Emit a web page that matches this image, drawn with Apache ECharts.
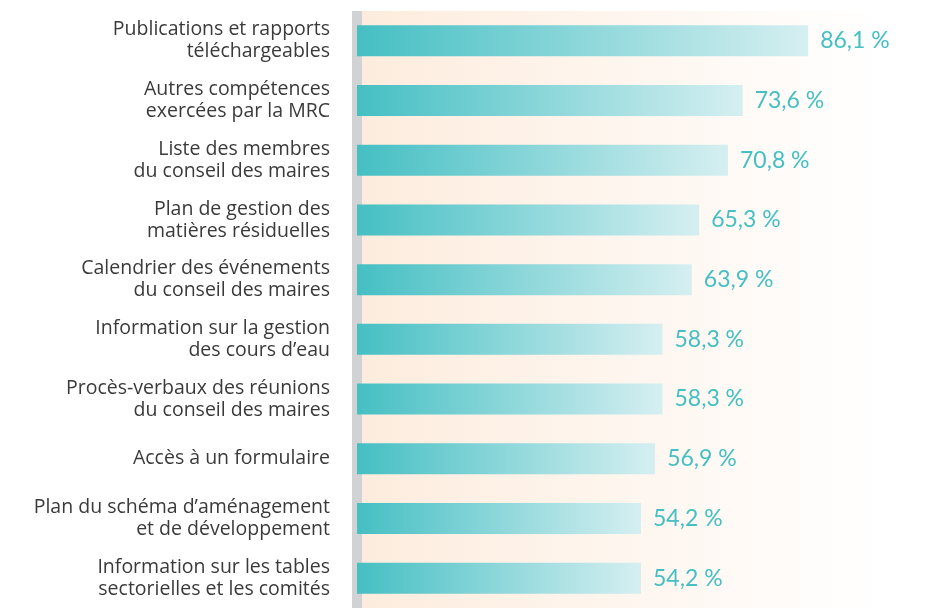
<!DOCTYPE html>
<html>
<head>
<meta charset="utf-8">
<script src="https://cdn.jsdelivr.net/npm/echarts@6/dist/echarts.min.js"></script>
<style>
  html, body { margin: 0; padding: 0; background: #fff; }
  #main { width: 928px; height: 610px; }
</style>
</head>
<body>
<div id="main"></div>
<script>
const categories = [
  'Publications et rapports\ntéléchargeables',
  'Autres compétences\nexercées par la MRC',
  'Liste des membres\ndu conseil des maires',
  'Plan de gestion des\nmatières résiduelles',
  'Calendrier des événements\ndu conseil des maires',
  'Information sur la gestion\ndes cours d’eau',
  'Procès-verbaux des réunions\ndu conseil des maires',
  'Accès à un formulaire',
  'Plan du schéma d’aménagement\net de développement',
  'Information sur les tables\nsectorielles et les comités'
]
const values = [86.1, 73.6, 70.8, 65.3, 63.9, 58.3, 58.3, 56.9, 54.2, 54.2]

const teal = '#45bfc3'

const chart = echarts.init(document.getElementById('main'))
chart.setOption({
  animation: false,
  grid: {
    left: 357, right: 47, top: 11, bottom: 2,
    show: true,
    borderWidth: 0,
    backgroundColor: new echarts.graphic.LinearGradient(0, 0, 1, 0, [
      { offset: 0, color: '#fdecdd' },
      { offset: 1, color: '#ffffff' }
    ])
  },
  xAxis: {
    type: 'value',
    min: 0,
    max: 100,
    show: false
  },
  yAxis: {
    type: 'category',
    inverse: true,
    data: categories,
    offset: 5,
    axisLine: { show: true, lineStyle: { color: '#d1d2d4', width: 10, cap: 'butt' } },
    axisTick: { show: false },
    axisLabel: {
      margin: 22,
      color: '#3a3a3a',
      fontFamily: 'Open Sans',
      fontSize: 19.5,
      lineHeight: 22,
      align: 'right'
    }
  },
  series: [{
    type: 'bar',
    data: values,
    barWidth: 31,
    itemStyle: {
      color: new echarts.graphic.LinearGradient(0, 0, 1, 0, [
        { offset: 0, color: teal },
        { offset: 1, color: '#d6eff1' }
      ])
    },
    label: {
      show: true,
      position: 'right',
      distance: 12,
      color: teal,
      fontFamily: 'Lato',
      fontSize: 23,
      formatter: p => p.value.toFixed(1).replace('.', ',') + ' %'
    }
  }]
})
</script>
</body>
</html>
